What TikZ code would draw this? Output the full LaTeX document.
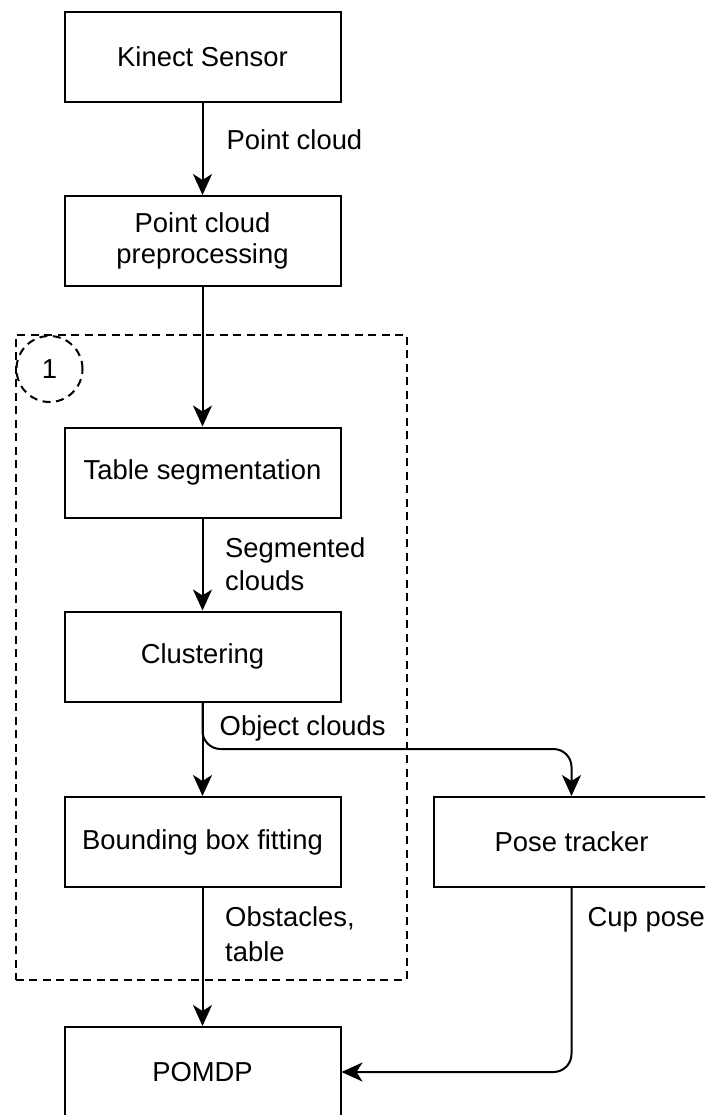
\documentclass[tikz,border=0pt]{standalone}
\usepackage{fontspec}
\setmainfont{Liberation Sans}
\usetikzlibrary{arrows.meta}
\begin{document}
\begin{tikzpicture}[x=1pt,y=-1pt,
  font=\fontsize{27.4}{31.5}\selectfont,
  stagebox/.style={draw, line width=2pt, minimum width=276pt, minimum height=90pt,
    inner sep=0pt, align=center, fill=white},
  flow/.style={line width=2pt, -{Stealth[length=21pt,width=19pt,inset=6pt]}},
  lbl/.style={anchor=base west, inner sep=0pt},
  grouping/.style={draw, line width=2pt, dash pattern=on 8pt off 5.5pt}]
  \useasboundingbox (0,0) rectangle (705,1115);
  \clip (0,0) rectangle (705,1115);

  % dashed frame of the perception group
  \node[grouping, minimum width=391pt, minimum height=645pt, inner sep=0pt]
    (group) at (211.25,657.25) {};
  \node[grouping, circle, minimum size=66pt, inner sep=0pt] (num) at (49.5,369) {1};

  % processing stages
  \node[stagebox] (kinect) at (202.5,57) {Kinect Sensor};
  \node[stagebox] (prep) at (202.5,241) {Point cloud\\preprocessing};
  \node[stagebox] (tseg) at (202.5,472.5) {Table segmentation};
  \node[stagebox] (clust) at (202.5,656.5) {Clustering};
  \node[stagebox] (bbf) at (202.5,842) {Bounding box fitting};
  \node[stagebox] (pose) at (571.5,842) {Pose tracker};
  \node[stagebox] (pomdp) at (202.5,1072) {POMDP};

  % connectors
  \coordinate (split) at (571.5,749);
  \draw[flow] (kinect) -- (prep);
  \draw[flow] (prep) -- (tseg);
  \draw[flow] (tseg) -- (clust);
  \draw[flow] (clust) -- (bbf);
  \draw[flow, rounded corners=18pt] (clust.south) |- (split) -- (pose.north);
  \draw[flow] (bbf) -- (pomdp);
  \draw[flow, rounded corners=18pt] (pose.south) |- (pomdp.east);

  % connector labels
  \node[lbl] (l1) at (226.5,150) {Point cloud};
  \node[lbl] (l2a) at (225,557.7) {Segmented};
  \node[lbl] (l2b) at (225,590.7) {clouds};
  \node[lbl] (l3) at (219.5,735.5) {Object clouds};
  \node[lbl] (l4a) at (225,926.7) {Obstacles,};
  \node[lbl] (l4b) at (225,961) {table};
  \node[lbl] (l5) at (587.5,926.7) {Cup pose};
\end{tikzpicture}
\end{document}
